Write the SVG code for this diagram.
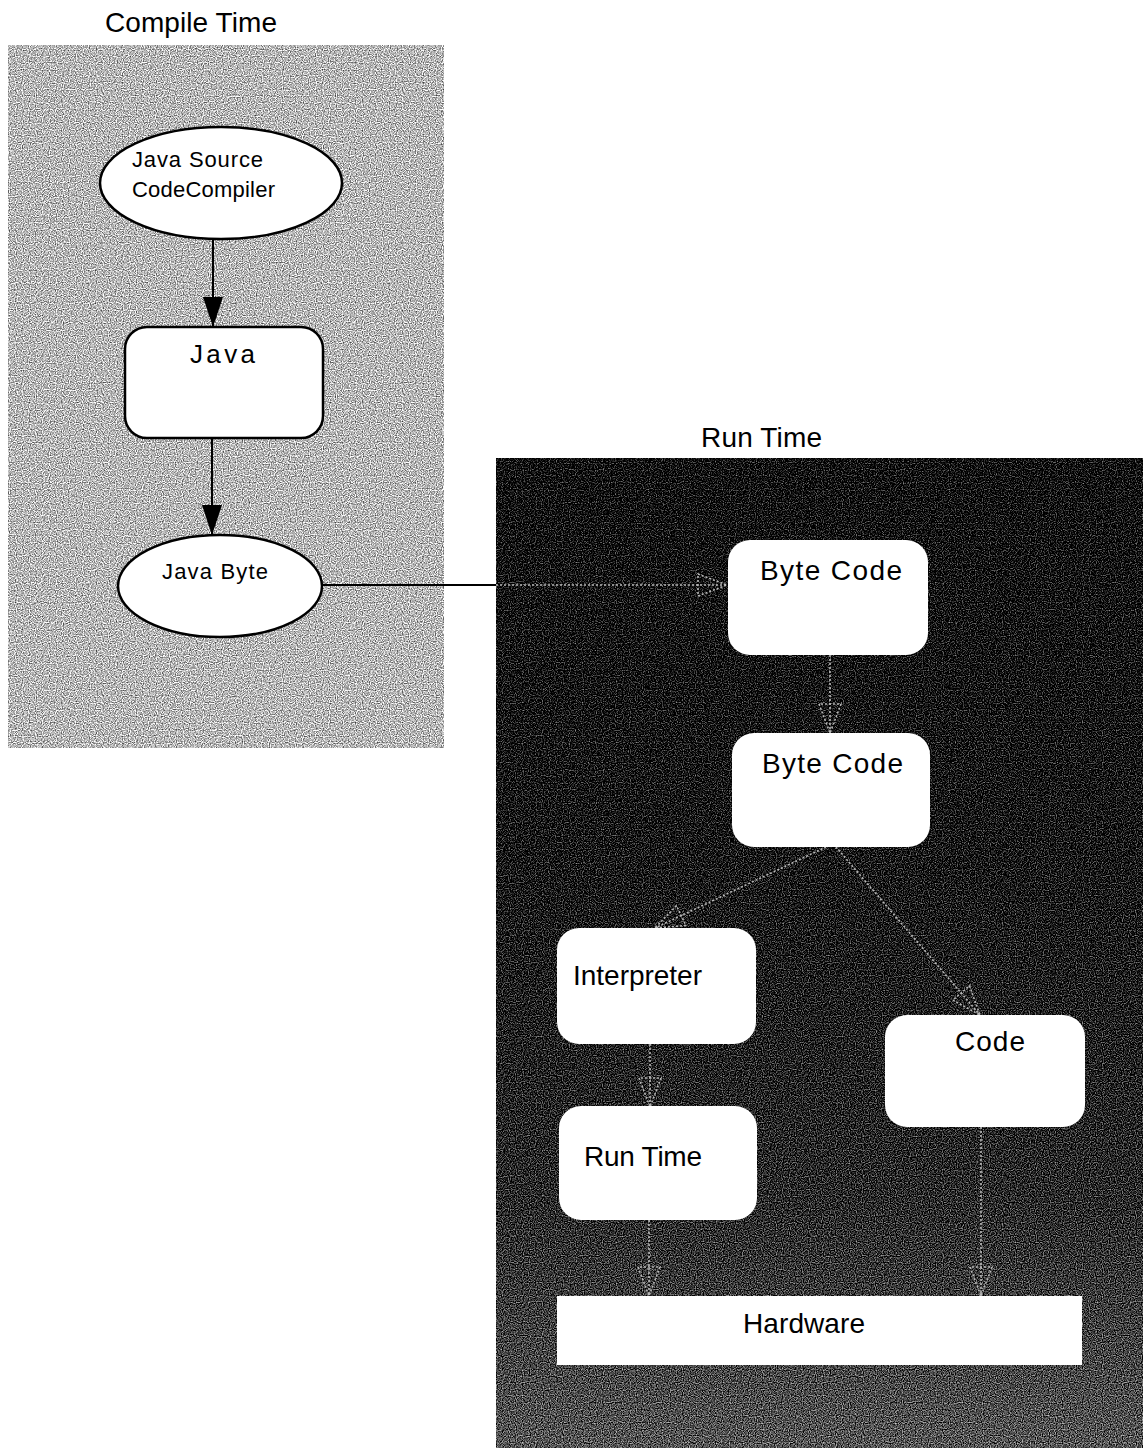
<svg xmlns="http://www.w3.org/2000/svg" width="1143" height="1448" viewBox="0 0 1143 1448">
<style>
  text { font-family: "Liberation Sans", Arial, sans-serif; fill: #000; }
  .title { font-size: 28px; }
  .node { fill: #fff; }
  .ct { stroke: #000; stroke-width: 2.5; }
  .lbl28 { font-size: 28px; }
  .lbl22 { font-size: 22px; }
  .solid { stroke: #000; stroke-width: 2; fill: none; }
  .dot { stroke: #b8b8b8; stroke-width: 1.6; stroke-dasharray: 2 2; fill: none; }
</style>
<defs>
  <marker id="blk" viewBox="0 0 30 20" refX="30" refY="10" markerWidth="30" markerHeight="20" markerUnits="userSpaceOnUse" orient="auto">
    <path d="M0,0 L30,10 L0,20 Z" fill="#000"/>
  </marker>
  <marker id="opn" viewBox="0 0 32 24" refX="30" refY="12" markerWidth="32" markerHeight="24" markerUnits="userSpaceOnUse" orient="auto">
    <path d="M1,1 L30,12 L1,23 Z" fill="none" stroke="#b8b8b8" stroke-width="1.6" stroke-dasharray="2 2"/>
  </marker>
  <linearGradient id="runbg" x1="0" y1="0" x2="0" y2="1">
    <stop offset="0" stop-color="#0a0a0a"/>
    <stop offset="0.4" stop-color="#121212"/>
    <stop offset="0.75" stop-color="#282828"/>
    <stop offset="1" stop-color="#555555"/>
  </linearGradient>
  <filter id="speckle" x="0" y="0" width="100%" height="100%" color-interpolation-filters="sRGB">
    <feTurbulence type="fractalNoise" baseFrequency="0.85" numOctaves="1" seed="5" result="t"/>
    <feColorMatrix in="t" type="matrix" values="1 0 0 0 0  1 0 0 0 0  1 0 0 0 0  0 0 0 0 1" result="g"/>
    <feComposite in="g" in2="SourceGraphic" operator="arithmetic" k1="0" k2="1.6" k3="1" k4="-0.8"/>
  </filter>
</defs>
<rect width="1143" height="1448" fill="#fff"/>

<g id="compile-panel">
  <rect x="8" y="45" width="436" height="703" fill="#b6b6b6" filter="url(#speckle)"/>
  <text class="title" x="105" y="32" textLength="172">Compile Time</text>
</g>
<g id="run-panel">
  <rect x="496" y="458" width="647" height="990" fill="url(#runbg)" filter="url(#speckle)"/>
  <text class="title" x="701" y="447" textLength="121">Run Time</text>
</g>

<g id="connectors">
  <line class="solid" x1="213" y1="239" x2="213" y2="327" marker-end="url(#blk)"/>
  <line class="solid" x1="212" y1="438" x2="212" y2="535" marker-end="url(#blk)"/>
  <line class="solid" x1="322" y1="585" x2="496" y2="585"/>
  <line class="dot" x1="496" y1="585" x2="727" y2="585" marker-end="url(#opn)"/>
  <line class="dot" x1="830" y1="655" x2="830" y2="733" marker-end="url(#opn)"/>
  <line class="dot" x1="826" y1="847" x2="655" y2="928" marker-end="url(#opn)"/>
  <line class="dot" x1="836" y1="847" x2="980" y2="1015" marker-end="url(#opn)"/>
  <line class="dot" x1="650" y1="1044" x2="650" y2="1107" marker-end="url(#opn)"/>
  <line class="dot" x1="649" y1="1220" x2="649" y2="1296" marker-end="url(#opn)"/>
  <line class="dot" x1="981" y1="1127" x2="981" y2="1296" marker-end="url(#opn)"/>
</g>

<g id="java-source-compiler">
  <ellipse class="node ct" cx="221" cy="183" rx="121" ry="56"/>
  <text class="lbl22" x="132" y="167" textLength="131">Java Source</text>
  <text class="lbl22" x="132" y="197" textLength="143">CodeCompiler</text>
</g>
<g id="java">
  <rect class="node ct" x="125" y="327" width="198" height="111" rx="22"/>
  <text x="190" y="363" font-size="26" textLength="65">Java</text>
</g>
<g id="java-byte">
  <ellipse class="node ct" cx="220" cy="586" rx="102" ry="51"/>
  <text class="lbl22" x="162" y="579" textLength="106">Java Byte</text>
</g>
<g id="byte-code-1">
  <rect class="node" x="728" y="540" width="200" height="115" rx="22"/>
  <text class="lbl28" x="760" y="580" textLength="142">Byte Code</text>
</g>
<g id="byte-code-2">
  <rect class="node" x="732" y="733" width="198" height="114" rx="22"/>
  <text class="lbl28" x="762" y="773" textLength="141">Byte Code</text>
</g>
<g id="interpreter">
  <rect class="node" x="557" y="928" width="199" height="116" rx="22"/>
  <text class="lbl28" x="573" y="985" textLength="129">Interpreter</text>
</g>
<g id="code">
  <rect class="node" x="885" y="1015" width="200" height="112" rx="22"/>
  <text class="lbl28" x="955" y="1051" textLength="70">Code</text>
</g>
<g id="run-time">
  <rect class="node" x="559" y="1106" width="198" height="114" rx="22"/>
  <text class="lbl28" x="584" y="1166" textLength="118">Run Time</text>
</g>
<g id="hardware">
  <rect class="node" x="557" y="1296" width="525" height="69"/>
  <text class="lbl28" x="743" y="1333" textLength="122">Hardware</text>
</g>
</svg>
